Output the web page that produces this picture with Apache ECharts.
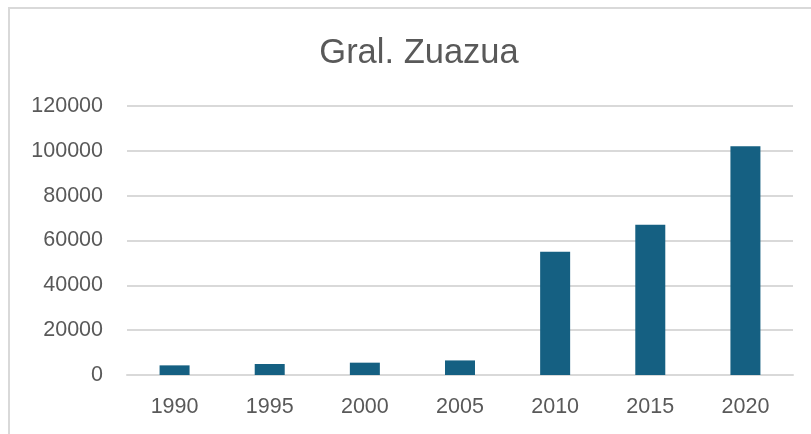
<!DOCTYPE html>
<html>
<head>
<meta charset="utf-8">
<script src="https://cdn.jsdelivr.net/npm/echarts@6/dist/echarts.min.js"></script>
<style>
  html, body { margin: 0; padding: 0; background: #fff; }
  #chart { width: 811px; height: 434px; }
</style>
</head>
<body>
<div id="chart"></div>
<script>
const years = ['1990', '1995', '2000', '2005', '2010', '2015', '2020']
const population = [4300, 4900, 5500, 6500, 55000, 67000, 102000]
const yTicks = [0, 20000, 40000, 60000, 80000, 100000, 120000]

const chart = echarts.init(document.getElementById('chart'))
const textColor = '#595959'
const font = 'Liberation Sans, Arial, sans-serif'

chart.setOption({
  animation: false,
  title: {
    text: 'Gral. Zuazua',
    left: 414,
    top: 31,
    textAlign: 'center',
    textStyle: {
      color: textColor,
      fontSize: 34.5,
      fontWeight: 'normal',
      fontFamily: font
    }
  },
  graphic: [
    {
      type: 'rect',
      shape: { x: 9, y: 8, width: 840, height: 460 },
      style: { fill: 'none', stroke: '#d9d9d9', lineWidth: 2 },
      silent: true
    }
  ],
  grid: {
    left: 127,
    right: 18,
    top: 106,
    bottom: 59
  },
  xAxis: {
    type: 'category',
    data: years,
    axisTick: { show: false },
    axisLine: { lineStyle: { color: '#d9d9d9', width: 2 } },
    axisLabel: {
      color: textColor,
      fontSize: 21.5,
      fontFamily: font,
      margin: 21
    }
  },
  yAxis: {
    type: 'value',
    min: yTicks[0],
    max: yTicks[yTicks.length - 1],
    interval: 20000,
    axisLine: { show: false },
    axisTick: { show: false },
    splitLine: { lineStyle: { color: '#d9d9d9', width: 2 } },
    axisLabel: {
      color: textColor,
      fontSize: 21.5,
      fontFamily: font,
      margin: 24,
      formatter: (v) => String(v)
    }
  },
  series: [
    {
      type: 'bar',
      data: population,
      barWidth: 30,
      itemStyle: { color: '#156082' }
    }
  ]
})
</script>
</body>
</html>
